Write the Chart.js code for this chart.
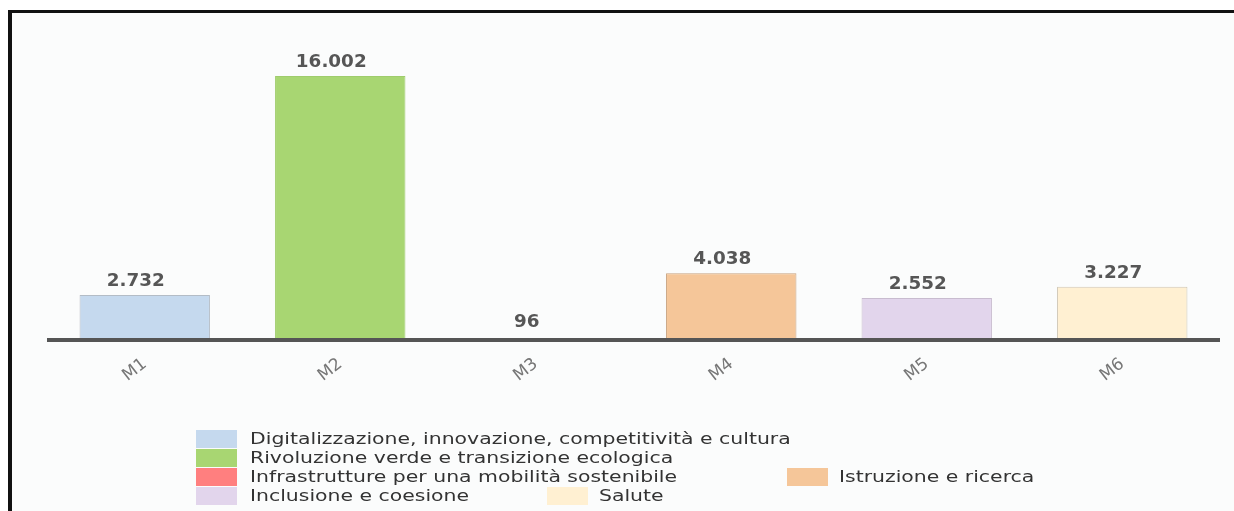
<!DOCTYPE html>
<html>
<head>
<meta charset="utf-8">
<script src="https://cdn.jsdelivr.net/npm/chart.js@4.4.1/dist/chart.umd.min.js"></script>
<style>
  html, body { margin: 0; padding: 0; background: #ffffff; }
  #wrap { position: relative; width: 1234px; height: 511px; overflow: hidden; }
  #frame {
    position: absolute; left: 8px; top: 10px; width: 1240px; height: 520px;
    border-left: 4px solid #111; border-top: 3px solid #111; background: #fbfcfc;
  }
  #chart { position: absolute; left: 0; top: 0; }
  .leg { position: absolute; font-family: "DejaVu Sans", sans-serif; font-size: 15px; color: #333333; }
  .leg .box { position: absolute; width: 41px; height: 18px; }
  .leg .txt { position: absolute; white-space: nowrap; line-height: 18px; transform-origin: 0 50%; transform: scaleX(1.36); }
</style>
</head>
<body>
<div id="wrap">
  <div id="frame"></div>
  <canvas id="chart" width="1234" height="511"></canvas>
  <div id="legend"></div>
</div>
<script>
// values in millions of euro, one bar per mission
const missions = ['M1', 'M2', 'M3', 'M4', 'M5', 'M6'];
const amounts = [2732, 16002, 96, 4038, 2552, 3227];
const missionNames = [
  'Digitalizzazione, innovazione, competitività e cultura',
  'Rivoluzione verde e transizione ecologica',
  'Infrastrutture per una mobilità sostenibile',
  'Istruzione e ricerca',
  'Inclusione e coesione',
  'Salute'
];
const fills = ['#c5d9ee', '#a8d672', '#ff7f7f', '#f5c699', '#e2d5ec', '#fff0d2'];
const edges = ['#b3bcc6', '#9fcc6c', '#ff7f7f', '#c9a27e', '#c8bccf', '#cfc6b4'];
const edgeWidths = [1, 1, 0, 1, 1, 1];

// legend layout: [left of box, top, left of text]
const legendSpots = [
  [196, 430, 250],
  [196, 449, 250],
  [196, 468, 250],
  [787, 468, 839],
  [196, 487, 250],
  [547, 487, 599]
];

const legend = document.getElementById('legend');
missionNames.forEach((name, i) => {
  const [bx, by, tx] = legendSpots[i];
  const item = document.createElement('div');
  item.className = 'leg';
  item.innerHTML = `<div class="box" style="left:${bx}px;top:${by}px;background:${fills[i]}"></div>
    <div class="txt" style="left:${tx}px;top:${by}px">${name}</div>`;
  legend.appendChild(item);
});

const fmt = v => v.toLocaleString('it-IT');

// value labels + the thick base line, drawn over the bars
const overlay = {
  id: 'overlay',
  afterDatasetsDraw(chart) {
    const ctx = chart.ctx;
    const area = chart.chartArea;
    ctx.save();
    ctx.strokeStyle = '#555555';
    ctx.lineWidth = 4;
    ctx.beginPath();
    ctx.moveTo(area.left, area.bottom);
    ctx.lineTo(area.right, area.bottom);
    ctx.stroke();

    const meta = chart.getDatasetMeta(0);
    ctx.font = 'bold 17px "DejaVu Sans", sans-serif';
    ctx.fillStyle = '#565656';
    ctx.textAlign = 'center';
    ctx.textBaseline = 'alphabetic';
    meta.data.forEach((bar, i) => {
      ctx.save();
      ctx.translate(bar.x - 9, Math.min(bar.y, bar.base - 4) - 9);
      ctx.scale(1.08, 1);
      ctx.fillText(fmt(amounts[i]), 0, 0);
      ctx.restore();
    });
    ctx.restore();
  }
};

new Chart(document.getElementById('chart'), {
  type: 'bar',
  data: {
    labels: missions,
    datasets: [{
      data: amounts,
      backgroundColor: fills,
      borderColor: edges,
      borderWidth: edgeWidths,
      categoryPercentage: 1,
      barPercentage: 0.667
    }]
  },
  options: {
    responsive: false,
    animation: false,
    layout: { padding: { left: 47, right: 14, top: 43, bottom: 111 } },
    plugins: { legend: { display: false }, tooltip: { enabled: false } },
    scales: {
      y: { display: false, min: 0, max: 18000 },
      x: {
        grid: { display: false, drawTicks: false },
        border: { display: false },
        ticks: {
          color: '#777777',
          font: { family: '"DejaVu Sans", sans-serif', size: 17 },
          minRotation: 38, maxRotation: 38,
          padding: 14
        },
        afterFit: s => { s.height = 60; }
      }
    }
  },
  plugins: [overlay]
});
</script>
</body>
</html>
